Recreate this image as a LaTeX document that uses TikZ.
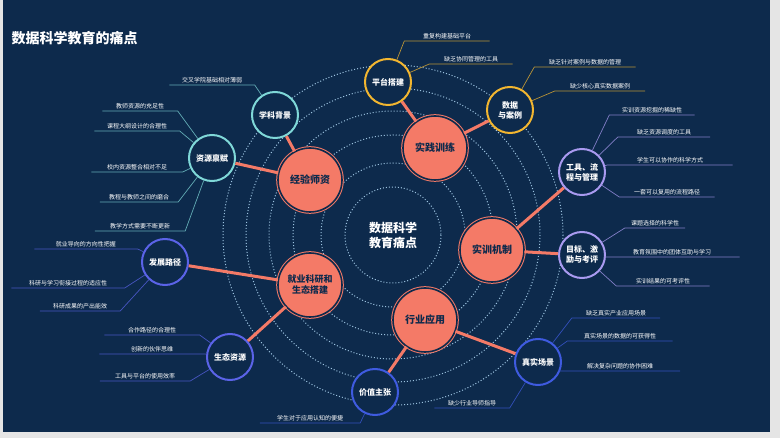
\documentclass[tikz,border=0pt]{standalone}
\usepackage{fontspec}
\newfontfamily\cjk{Noto Sans CJK SC}
\usepackage{tikz}
\usetikzlibrary{positioning, calc}

\definecolor{bgnavy}{HTML}{0D2A4C}
\definecolor{salmon}{HTML}{F47A67}
\definecolor{tealc}{HTML}{7FD8D8}
\definecolor{yellowc}{HTML}{F2B630}
\definecolor{lavc}{HTML}{A99AF0}
\definecolor{bluec}{HTML}{3F5BE0}
\definecolor{violc}{HTML}{5B63E8}
\definecolor{dotc}{HTML}{9CC3E0}

\begin{document}
\begin{tikzpicture}[
    x=1pt, y=-1pt, font=\cjk,
    core/.style={circle, fill=salmon, draw=salmon, double=bgnavy, double distance=1.6pt, line width=1pt, minimum size=64pt, align=center, text=bgnavy, font=\cjk\fontsize{10}{12}\selectfont\bfseries},
    hub/.style={circle, fill=bgnavy, draw=#1, line width=2pt, minimum size=46pt, align=center, text=white, font=\cjk\fontsize{8}{10}\selectfont\bfseries},
    leaf/.style={anchor=south, inner sep=1.5pt, text=white, font=\cjk\fontsize{6}{7}\selectfont},
    link/.style={salmon, line width=3pt},
    lead/.style={#1!75!bgnavy, line width=0.7pt}
]
    \fill[gray!20] (0,0) rectangle (780,438);
    \fill[bgnavy] (3,0) rectangle (770,432);
    \useasboundingbox (0,0) rectangle (780,438);

    % rings
    \foreach \r in {48,72,100,124,147,170}
        \draw[dotc, line width=1pt, dotted] (393,235) circle (\r);

    \node[text=white, anchor=west, font=\cjk\fontsize{14}{16}\selectfont\bfseries] (title) at (8,38) {数据科学教育的痛点};
    \node[text=white, align=center, font=\cjk\fontsize{12}{15}\selectfont\bfseries] (center) at (393,235) {数据科学\\教育痛点};

    % core nodes
    \node[core] (exp) at (310,180) {经验师资};
    \node[core] (prac) at (435,148) {实践训练};
    \node[core] (mech) at (492,250) {实训机制};
    \node[core] (ind) at (425,320) {行业应用};
    \node[core, font=\cjk\fontsize{9}{11}\selectfont\bfseries] (job) at (310,285) {就业科研和\\生态搭建};

    % hubs
    \node[hub=tealc] (disc) at (275,115) {学科背景};
    \node[hub=tealc] (res) at (212,158) {资源禀赋};
    \node[hub=yellowc] (plat) at (388,82) {平台搭建};
    \node[hub=yellowc] (data) at (510,110) {数据\\与案例};
    \node[hub=lavc] (tool) at (582,172) {工具、流\\程与管理};
    \node[hub=lavc] (goal) at (582,255) {目标、激\\励与考评};
    \node[hub=bluec] (real) at (538,362) {真实场景};
    \node[hub=bluec] (value) at (375,392) {价值主张};
    \node[hub=violc] (eco) at (230,357) {生态资源};
    \node[hub=violc] (path) at (165,262) {发展路径};

    \foreach \a/\b in {exp/disc, exp/res, prac/plat, prac/data, mech/tool, mech/goal, ind/real, ind/value, job/path, job/eco}
        \draw[link] (\a) -- (\b);

    % leaves to the left of their hub
    \foreach \n/\x/\y/\w/\h/\c/\t in {
        l1/212/85/85/disc/tealc/交叉学院基础相对薄弱,
        l2/140/111/75/res/tealc/教师资源的充足性,
        l3/137/131/85/res/tealc/课程大纲设计的合理性,
        l4/137/172/91/res/tealc/校内资源整合相对不足,
        l5/139/202/78/res/tealc/教程与教师之间的磨合,
        l6/140/231/90/res/tealc/教学方式需要不断更新,
        l7/86/249/103/path/violc/就业导向的方向性把握,
        l8/68/288/113/path/violc/科研与学习衔接过程的适应性,
        l9/80/311/80/path/violc/科研成果的产出能效,
        l10/152/335/95/eco/violc/合作路径的合理性,
        l11/152/354/105/eco/violc/创新的伙伴思维,
        l12/145/381/90/eco/violc/工具与平台的使用效率,
        l13/310/423/100/value/bluec/学生对于应用认知的便捷,
        l14/472/408/75/real/bluec/缺少行业导师指导}{
        \node[leaf, minimum width=\w] (\n) at (\x,\y) {\t};
        \draw[lead=\c] (\h) -- (\n.south east) -- (\n.south west);
    }

    % leaves to the right of their hub
    \foreach \n/\x/\y/\w/\h/\c/\t in {
        r1/447/41/85/plat/yellowc/重复构建基础平台,
        r2/471/64/83/plat/yellowc/缺乏协同管理的工具,
        r3/585/67/101/data/yellowc/缺乏针对案例与数据的管理,
        r4/600/91/90/data/yellowc/缺少核心真实数据案例,
        r5/652/115/85/tool/lavc/实训资源挖掘的稀缺性,
        r6/664/137/92/tool/lavc/缺乏资源调度的工具,
        r7/670/165/125/tool/lavc/学生可以协作的科学方式,
        r8/667/197/95/tool/lavc/一套可以复用的流程路径,
        r9/655/228/60/goal/lavc/课题选择的科学性,
        r10/672/257/135/goal/lavc/教育氛围中的团体互助与学习,
        r11/663/286/93/goal/lavc/实训结果的可考评性,
        r12/616/318/88/real/bluec/缺乏真实产业应用场景,
        r13/620/341/105/real/bluec/真实场景的数据的可获得性,
        r14/620/371/120/real/bluec/解决复杂问题的协作困难}{
        \node[leaf, minimum width=\w] (\n) at (\x,\y) {\t};
        \draw[lead=\c] (\h) -- (\n.south west) -- (\n.south east);
    }
\end{tikzpicture}
\end{document}
